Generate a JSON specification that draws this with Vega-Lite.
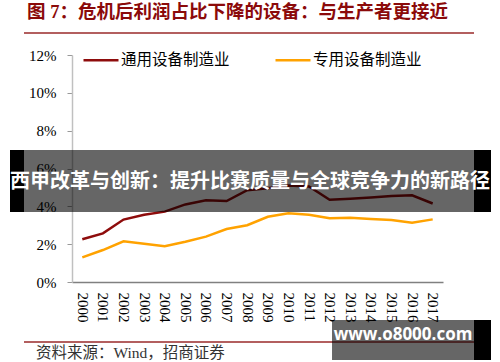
{
  "$schema": "https://vega.github.io/schema/vega-lite/v6.json",
  "autosize": {"type": "none"},
  "width": 371,
  "height": 227,
  "padding": {"left": 72, "top": 55, "right": 57, "bottom": 80},
  "background": "white",
  "config": {"view": {"stroke": null}},
  "resolve": {"axis": {"x": "independent", "y": "independent"}},
  "layer": [
    {
      "data": {"values": [
        {"year": 2000, "series": "通用设备制造业", "value": 2.26},
        {"year": 2001, "series": "通用设备制造业", "value": 2.57},
        {"year": 2002, "series": "通用设备制造业", "value": 3.30},
        {"year": 2003, "series": "通用设备制造业", "value": 3.55},
        {"year": 2004, "series": "通用设备制造业", "value": 3.72},
        {"year": 2005, "series": "通用设备制造业", "value": 4.10},
        {"year": 2006, "series": "通用设备制造业", "value": 4.32},
        {"year": 2007, "series": "通用设备制造业", "value": 4.28},
        {"year": 2008, "series": "通用设备制造业", "value": 4.85},
        {"year": 2009, "series": "通用设备制造业", "value": 4.95},
        {"year": 2010, "series": "通用设备制造业", "value": 5.10},
        {"year": 2011, "series": "通用设备制造业", "value": 5.05},
        {"year": 2012, "series": "通用设备制造业", "value": 4.35},
        {"year": 2013, "series": "通用设备制造业", "value": 4.40},
        {"year": 2014, "series": "通用设备制造业", "value": 4.47},
        {"year": 2015, "series": "通用设备制造业", "value": 4.55},
        {"year": 2016, "series": "通用设备制造业", "value": 4.58},
        {"year": 2017, "series": "通用设备制造业", "value": 4.15},
        {"year": 2000, "series": "专用设备制造业", "value": 1.30},
        {"year": 2001, "series": "专用设备制造业", "value": 1.69},
        {"year": 2002, "series": "专用设备制造业", "value": 2.15},
        {"year": 2003, "series": "专用设备制造业", "value": 2.02},
        {"year": 2004, "series": "专用设备制造业", "value": 1.89},
        {"year": 2005, "series": "专用设备制造业", "value": 2.13},
        {"year": 2006, "series": "专用设备制造业", "value": 2.40},
        {"year": 2007, "series": "专用设备制造业", "value": 2.80},
        {"year": 2008, "series": "专用设备制造业", "value": 3.00},
        {"year": 2009, "series": "专用设备制造业", "value": 3.45},
        {"year": 2010, "series": "专用设备制造业", "value": 3.63},
        {"year": 2011, "series": "专用设备制造业", "value": 3.56},
        {"year": 2012, "series": "专用设备制造业", "value": 3.37},
        {"year": 2013, "series": "专用设备制造业", "value": 3.40},
        {"year": 2014, "series": "专用设备制造业", "value": 3.33},
        {"year": 2015, "series": "专用设备制造业", "value": 3.28},
        {"year": 2016, "series": "专用设备制造业", "value": 3.13},
        {"year": 2017, "series": "专用设备制造业", "value": 3.31}
      ]},
      "mark": {"type": "line", "strokeWidth": 2.5},
      "encoding": {
        "x": {
          "field": "year", "type": "quantitative",
          "scale": {"domain": [1999.5, 2017.5], "nice": false, "zero": false},
          "axis": {
            "title": null, "values": [2000,2001,2002,2003,2004,2005,2006,2007,2008,2009,2010,2011,2012,2013,2014,2015,2016,2017],
            "tickCount": 18,
            "format": "d", "labelAngle": 90, "labelFont": "Liberation Serif", "labelFontSize": 15,
            "labelColor": "#000", "ticks": false, "tickSize": 0, "labelPadding": 10, "labelFlush": false,
            "labelOverlap": false, "labelSeparation": 0, "domainColor": "#808080", "domainWidth": 1.5, "grid": false
          }
        },
        "y": {
          "field": "value", "type": "quantitative",
          "scale": {"domain": [0, 12], "nice": false},
          "axis": {
            "title": null, "values": [0,2,4,6,8,10,12], "tickCount": 7, "labelExpr": "datum.value + '%'",
            "labelFont": "Liberation Serif", "labelFontSize": 15, "labelColor": "#000", "labelOverlap": false,
            "tickSize": 5, "tickColor": "#999", "domainColor": "#c0c0c0", "domainWidth": 1.5,
            "labelPadding": 11, "grid": false
          }
        },
        "color": {
          "field": "series", "type": "nominal",
          "scale": {"domain": ["通用设备制造业", "专用设备制造业"], "range": ["#8E0C0C", "#FFA200"]},
          "legend": {
            "title": null, "orient": "none", "legendX": 10, "legendY": -14, "direction": "horizontal",
            "columns": 2, "columnPadding": 40, "padding": 0,
            "symbolType": "stroke", "symbolSize": 1225, "symbolStrokeWidth": 2.5, "labelOffset": 1,
            "labelFont": "Noto Sans CJK SC", "labelFontSize": 15.5, "labelColor": "#000"
          }
        }
      }
    },
    {
      "data": {"values": [{}]},
      "mark": {"type": "text", "align": "left", "baseline": "middle", "font": "Liberation Serif, Noto Sans CJK SC", "fontSize": 18.5, "fontWeight": "bold", "color": "#8B0A0A"},
      "encoding": {"x": {"datum": 1997.317, "axis": null}, "y": {"datum": 14.27, "axis": null}, "text": {"value": "图 7：危机后利润占比下降的设备：与生产者更接近"}}
    },
    {
      "data": {"values": [{}]},
      "mark": {"type": "rule", "color": "#9A2A2A", "strokeWidth": 1.5},
      "encoding": {"x": {"datum": 1997.171, "axis": null}, "x2": {"datum": 2019.004}, "y": {"datum": 13.163, "axis": null}}
    },
    {
      "data": {"values": [{}]},
      "mark": {"type": "rule", "color": "#9A2A2A", "strokeWidth": 1.5},
      "encoding": {"x": {"datum": 1997.171, "axis": null}, "x2": {"datum": 2019.004}, "y": {"datum": -3.172, "axis": null}}
    },
    {
      "data": {"values": [{}]},
      "mark": {"type": "text", "align": "left", "baseline": "middle", "font": "Liberation Serif, Noto Sans CJK SC", "fontSize": 15.5, "color": "#333"},
      "encoding": {"x": {"datum": 1997.753, "axis": null}, "y": {"datum": -3.753, "axis": null}, "text": {"value": "资料来源：Wind，招商证券"}}
    },
    {
      "data": {"values": [{}]},
      "mark": {"type": "rect", "color": "#000", "opacity": 0.6},
      "encoding": {"x": {"datum": 1997.171, "axis": null}, "x2": {"datum": 2019.004}, "y": {"datum": 6.978, "axis": null}, "y2": {"datum": 3.70}}
    },
    {
      "data": {"values": [{"a": 1996.492, "b": 1997.171}, {"a": 2019.004, "b": 2019.829}]},
      "mark": {"type": "rect", "color": "#000", "opacity": 1},
      "encoding": {"x": {"field": "a", "type": "quantitative", "axis": null}, "x2": {"field": "b"}, "y": {"datum": 6.978, "axis": null}, "y2": {"datum": 3.70}}
    },
    {
      "data": {"values": [{}]},
      "mark": {"type": "text", "align": "center", "baseline": "middle", "font": "Noto Sans CJK SC", "fontSize": 20, "fontWeight": "bold", "color": "#fff"},
      "encoding": {"x": {"datum": 2008.136, "axis": null}, "y": {"datum": 5.286, "axis": null}, "text": {"value": "西甲改革与创新：提升比赛质量与全球竞争力的新路径"}}
    },
    {
      "data": {"values": [{}]},
      "mark": {"type": "rect", "color": "#000", "opacity": 0.6},
      "encoding": {"x": {"datum": 2012.115, "axis": null}, "x2": {"datum": 2019.004}, "y": {"datum": -2.009, "axis": null}, "y2": {"datum": -4.123}}
    },
    {
      "data": {"values": [{}]},
      "mark": {"type": "rect", "color": "#000", "opacity": 1},
      "encoding": {"x": {"datum": 2019.004, "axis": null}, "x2": {"datum": 2019.829}, "y": {"datum": -2.009, "axis": null}, "y2": {"datum": -4.123}}
    },
    {
      "data": {"values": [{}]},
      "mark": {"type": "text", "align": "center", "baseline": "middle", "font": "Open Sans", "fontSize": 17, "fontWeight": "bold", "color": "#fff"},
      "encoding": {"x": {"datum": 2015.56, "axis": null}, "y": {"datum": -2.802, "axis": null}, "text": {"value": "www.o8000.com"}}
    }
  ]
}
